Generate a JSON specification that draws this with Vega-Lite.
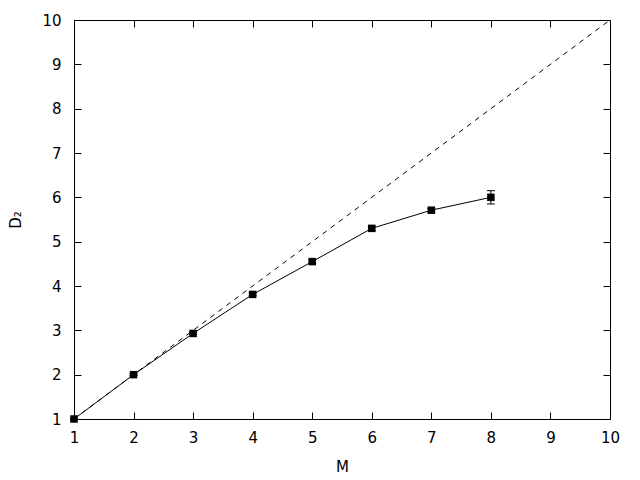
{
  "$schema": "https://vega.github.io/schema/vega-lite/v6.json",
  "autosize": {"type": "none"},
  "width": 536,
  "height": 399,
  "padding": {"left": 74, "top": 20, "right": 30, "bottom": 61},
  "background": "white",
  "config": {
    "view": {"stroke": "black", "strokeWidth": 1},
    "font": "DejaVu Sans",
    "axis": {
      "grid": false,
      "domain": false,
      "tickColor": "black",
      "tickSize": -7,
      "tickWidth": 1,
      "labelFont": "DejaVu Sans",
      "labelFontSize": 15,
      "labelColor": "black",
      "titleFont": "DejaVu Sans",
      "titleFontSize": 15,
      "titleFontWeight": "normal",
      "titleColor": "black",
      "labelFlush": false,
      "labelOverlap": false
    }
  },
  "datasets": {
    "diag": [{"M": 1, "D": 1}, {"M": 10, "D": 10}],
    "d2": [
      {"M": 1, "D2": 1.0, "lo": 0.99, "hi": 1.01},
      {"M": 2, "D2": 2.0, "lo": 1.98, "hi": 2.02},
      {"M": 3, "D2": 2.93, "lo": 2.9, "hi": 2.96},
      {"M": 4, "D2": 3.81, "lo": 3.78, "hi": 3.84},
      {"M": 5, "D2": 4.55, "lo": 4.51, "hi": 4.59},
      {"M": 6, "D2": 5.3, "lo": 5.25, "hi": 5.35},
      {"M": 7, "D2": 5.71, "lo": 5.67, "hi": 5.75},
      {"M": 8, "D2": 6.0, "lo": 5.85, "hi": 6.15}
    ]
  },
  "resolve": {"axis": {"x": "independent", "y": "independent"}},
  "layer": [
    {
      "data": {"name": "diag"},
      "mark": {"type": "line", "color": "black", "strokeWidth": 1, "strokeDash": [5, 5], "clip": true},
      "encoding": {
        "x": {"field": "M", "type": "quantitative", "scale": {"domain": [1, 10], "nice": false, "zero": false},
              "axis": {"title": "M", "values": [1,2,3,4,5,6,7,8,9,10], "labelPadding": 18, "titlePadding": 14}},
        "y": {"field": "D", "type": "quantitative", "scale": {"domain": [1, 10], "nice": false, "zero": false},
              "axis": {"title": "D₂", "values": [1,2,3,4,5,6,7,8,9,10], "labelPadding": 20, "titlePadding": 18}}
      }
    },
    {
      "data": {"name": "d2"},
      "mark": {"type": "line", "color": "black", "strokeWidth": 1},
      "encoding": {
        "x": {"field": "M", "type": "quantitative", "axis": {"orient": "top", "labels": false, "title": null, "values": [1,2,3,4,5,6,7,8,9,10]}},
        "y": {"field": "D2", "type": "quantitative", "axis": {"orient": "right", "labels": false, "title": null, "values": [1,2,3,4,5,6,7,8,9,10]}}
      }
    },
    {
      "data": {"name": "d2"},
      "mark": {"type": "rule", "color": "black", "strokeWidth": 1},
      "encoding": {
        "x": {"field": "M", "type": "quantitative", "axis": null},
        "y": {"field": "lo", "type": "quantitative", "axis": null},
        "y2": {"field": "hi"}
      }
    },
    {
      "data": {"name": "d2"},
      "mark": {"type": "tick", "orient": "horizontal", "color": "black", "size": 8, "thickness": 1, "opacity": 1},
      "encoding": {
        "x": {"field": "M", "type": "quantitative", "axis": null},
        "y": {"field": "lo", "type": "quantitative", "axis": null}
      }
    },
    {
      "data": {"name": "d2"},
      "mark": {"type": "tick", "orient": "horizontal", "color": "black", "size": 8, "thickness": 1, "opacity": 1},
      "encoding": {
        "x": {"field": "M", "type": "quantitative", "axis": null},
        "y": {"field": "hi", "type": "quantitative", "axis": null}
      }
    },
    {
      "data": {"name": "d2"},
      "mark": {"type": "square", "color": "black", "filled": true, "opacity": 1, "size": 56},
      "encoding": {
        "x": {"field": "M", "type": "quantitative", "axis": null},
        "y": {"field": "D2", "type": "quantitative", "axis": null}
      }
    }
  ]
}
